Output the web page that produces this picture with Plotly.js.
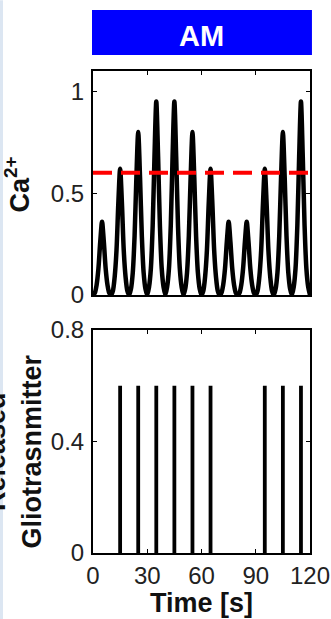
<!DOCTYPE html>
<html><head><meta charset="utf-8">
<script src="https://cdn.plot.ly/plotly-3.0.1.min.js"></script>
<style>html,body{margin:0;padding:0;background:#fff;} #chart{width:331px;height:619px;}</style>
</head><body><div id="chart"></div>
<script>
// ---- data ----
const panelTitle = 'AM';
const caTitle = 'Ca<sup>2+</sup>';
const gtTitle = 'Released<br>Gliotrasnmitter';
const timeTitle = 'Time [s]';

// Ca2+ trace sampled every 1 s from t = 0 s
const caTimeStart = 0;
const caTimeStep = 1;
const caValues = [
  0,
  0.01,0.05,0.13,0.26,0.36,0.26,0.13,0.05,0.01, 0,
  0.02,0.09,0.22,0.45,0.62,0.45,0.22,0.09,0.02, 0,
  0.03,0.11,0.29,0.58,0.80,0.58,0.29,0.11,0.03, 0,
  0.04,0.13,0.34,0.68,0.95,0.68,0.34,0.13,0.04, 0,
  0.04,0.13,0.34,0.68,0.95,0.68,0.34,0.13,0.04, 0,
  0.03,0.11,0.29,0.58,0.80,0.58,0.29,0.11,0.03, 0,
  0.02,0.09,0.22,0.45,0.62,0.45,0.22,0.09,0.02, 0,
  0.01,0.05,0.13,0.26,0.36,0.26,0.13,0.05,0.01, 0,
  0.01,0.05,0.13,0.26,0.36,0.26,0.13,0.05,0.01, 0,
  0.02,0.09,0.22,0.45,0.62,0.45,0.22,0.09,0.02, 0,
  0.03,0.11,0.29,0.58,0.80,0.58,0.29,0.11,0.03, 0,
  0.04,0.13,0.34,0.68,0.95,0.68,0.34,0.13,0.04, 0
];
const thresholdTimes = [0, 120];
const thresholdValues = [0.6, 0.6];

const releaseTimes = [15, 25, 35, 45, 55, 65, 95, 105, 115];
const releaseValues = [0.6, 0.6, 0.6, 0.6, 0.6, 0.6, 0.6, 0.6, 0.6];

const timeTicks = [0, 30, 60, 90, 120];
const timeTickText = ['0', '30', '60', '90', '120'];
const caTicks = [0, 0.5, 1];
const caTickText = ['0', '0.5', '1'];
const gtTicks = [0, 0.4, 0.8];
const gtTickText = ['0', '0.4', '0.8'];

// ---- chart ----
const FONT = 'Liberation Sans, Arial, Helvetica, sans-serif';
const tickFont = {family: FONT, size: 24, color: '#222'};
const titleFont = {family: FONT, size: 27, color: '#111', weight: 'bold'};

const traces = [
  {type: 'scatter', mode: 'lines', x0: caTimeStart, dx: caTimeStep, y: caValues,
   line: {color: '#000', width: 4.5, shape: 'spline', smoothing: 0.8},
   xaxis: 'x', yaxis: 'y', hoverinfo: 'skip'},
  {type: 'scatter', mode: 'lines', x: thresholdTimes, y: thresholdValues,
   line: {color: '#ff0000', width: 4, dash: '19px,9px'},
   xaxis: 'x', yaxis: 'y', hoverinfo: 'skip'},
  {type: 'bar', x: releaseTimes, y: releaseValues, width: 2.1,
   marker: {color: '#000', line: {width: 0}},
   xaxis: 'x2', yaxis: 'y2', hoverinfo: 'skip'}
];

const axBase = {
  showline: true, linewidth: 2, linecolor: '#000', mirror: 'allticks',
  ticks: 'inside', ticklen: 4, tickwidth: 1, tickcolor: '#000',
  showgrid: false, zeroline: false, fixedrange: true,
  tickfont: tickFont, automargin: false
};

const layout = {
  width: 331, height: 619,
  margin: {l: 93, r: 21, t: 71, b: 66},
  paper_bgcolor: '#fff', plot_bgcolor: '#fff',
  showlegend: false,
  font: {family: FONT},
  title: {text: panelTitle, font: {family: FONT, size: 29, color: '#fff', weight: 'bold'},
          xref: 'paper', yref: 'paper', x: 0.5, y: 1.0788, xanchor: 'center', yanchor: 'middle'},
  xaxis: Object.assign({}, axBase, {domain: [0, 1], anchor: 'y', range: [0, 120],
    tickvals: timeTicks, ticktext: timeTickText, showticklabels: false}),
  yaxis: Object.assign({}, axBase, {domain: [0.5353, 1], anchor: 'x', range: [0, 1.1],
    tickvals: caTicks, ticktext: caTickText, ticklabelstandoff: 2}),
  xaxis2: Object.assign({}, axBase, {domain: [0, 1], anchor: 'y2', range: [0, 120],
    tickvals: timeTicks, ticktext: timeTickText, ticklabelstandoff: 0}),
  yaxis2: Object.assign({}, axBase, {domain: [0, 0.4627], anchor: 'x2', range: [0, 0.8],
    tickvals: gtTicks, ticktext: gtTickText, ticklabelstandoff: 2}),
  annotations: [
    {text: caTitle, font: titleFont, textangle: -90, showarrow: false,
     xref: 'paper', yref: 'paper', x: -0.348, y: 0.7656, xanchor: 'center', yanchor: 'middle'},
    {text: gtTitle, font: titleFont, textangle: -90, showarrow: false,
     xref: 'paper', yref: 'paper', x: -0.2074, y: 0.2116, xanchor: 'right', yanchor: 'middle'},
    {text: timeTitle, font: titleFont, showarrow: false,
     xref: 'paper', yref: 'paper', x: 0.5, y: -0.1037, xanchor: 'center', yanchor: 'middle'}
  ],
  shapes: [
    {type: 'rect', xref: 'paper', yref: 'paper', x0: -0.0046, x1: 1.009, y0: 1.0332, y1: 1.1266,
     fillcolor: '#0000ff', line: {width: 0}, layer: 'above'},
    {type: 'rect', xref: 'paper', yref: 'paper', x0: -0.4286, x1: -0.4147, y0: -0.137, y1: 1.147,
     fillcolor: '#dce6f2', line: {width: 0}, layer: 'below'}
  ]
};

Plotly.newPlot('chart', traces, layout, {displayModeBar: false, staticPlot: true});
</script>
</body></html>
